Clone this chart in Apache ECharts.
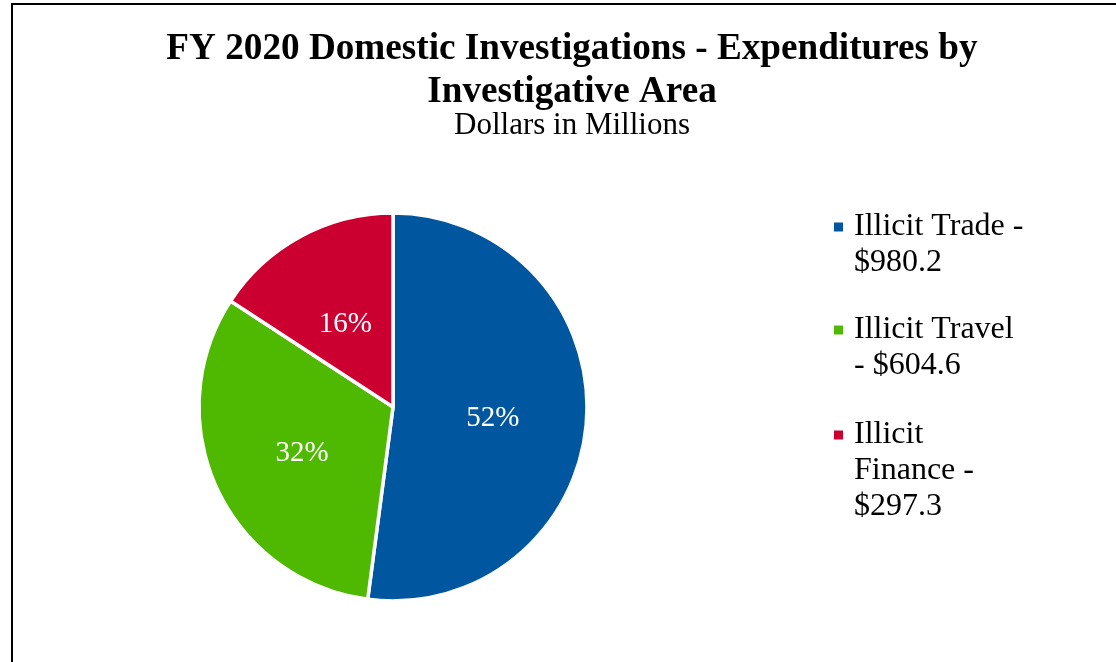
<!DOCTYPE html>
<html>
<head>
<meta charset="utf-8">
<script src="https://cdn.jsdelivr.net/npm/echarts@6/dist/echarts.min.js"></script>
<style>
  html, body { margin: 0; padding: 0; background: #ffffff; }
  #chart { position: absolute; left: 0; top: 0; width: 1116px; height: 662px; }
  #frame { position: absolute; left: 11px; top: 3px; width: 1200px; height: 800px;
           border-left: 2px solid #000; border-top: 2px solid #000; pointer-events: none; }
</style>
</head>
<body>
<div id="chart"></div>
<div id="frame"></div>
<script>
// Expenditures by investigative area (dollars in millions)
const areas = ['Illicit Trade', 'Illicit Travel', 'Illicit Finance'];
const amounts = [980.2, 604.6, 297.3];
// Legend wording, wrapped the way it is printed
const legendLines = [
  ['Illicit Trade -', '$980.2'],
  ['Illicit Travel', '- $604.6'],
  ['Illicit', 'Finance -', '$297.3']
];
const colors = ['#00579F', '#4FB800', '#CC0030'];

const serif = "'Liberation Serif', 'Times New Roman', serif";
const lineH = 36;
const legendTops = [173, 276, 345];

const chart = echarts.init(document.getElementById('chart'), null, { renderer: 'canvas' });

// One legend per entry; blank lines above the wording keep the
// first line level with the swatch, since legend text is centred on it.
const legends = areas.map((name, i) => {
  const n = legendLines[i].length;
  return {
    orient: 'vertical',
    left: 832,
    top: legendTops[i],
    padding: 0,
    selectedMode: false,
    icon: 'rect',
    itemWidth: 11,
    itemHeight: 11,
    data: [name],
    formatter: () => '\n'.repeat(n - 1) + legendLines[i].join('\n'),
    textStyle: {
      fontFamily: serif,
      fontSize: 32,
      lineHeight: lineH,
      color: '#000',
      padding: [0, 0, 0, 5]
    }
  };
});

chart.setOption({
  backgroundColor: '#ffffff',
  animation: false,
  color: colors,
  title: {
    text: 'FY 2020 Domestic Investigations - Expenditures by\nInvestigative Area',
    subtext: 'Dollars in Millions',
    left: 572,
    top: 28,
    padding: 0,
    textAlign: 'center',
    itemGap: -6,
    textStyle: {
      fontFamily: serif,
      fontWeight: 'bold',
      fontSize: 37.2,
      lineHeight: 43,
      color: '#000'
    },
    subtextStyle: {
      fontFamily: serif,
      fontSize: 31,
      lineHeight: 36,
      color: '#000'
    }
  },
  legend: legends,
  series: [{
    type: 'pie',
    center: [393, 407],
    radius: 194,
    startAngle: 90,
    clockwise: true,
    avoidLabelOverlap: false,
    itemStyle: { borderColor: '#ffffff', borderWidth: 3.5 },
    label: {
      show: true,
      position: 'inside',
      offset: [0, 5],
      fontFamily: serif,
      fontSize: 29,
      color: '#ffffff',
      formatter: p => Math.round(p.percent) + '%'
    },
    labelLine: { show: false },
    emphasis: { disabled: true },
    data: areas.map((name, i) => ({ name, value: amounts[i] }))
  }]
});
</script>
</body>
</html>
